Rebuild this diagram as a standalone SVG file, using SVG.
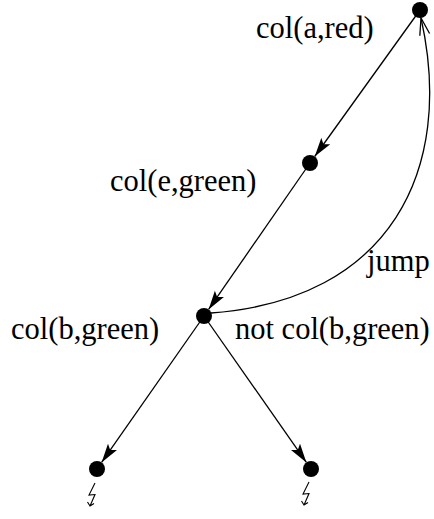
<svg xmlns="http://www.w3.org/2000/svg" width="434" height="519" viewBox="0 0 434 519">
<defs>
<style>
.lbl{font-family:"Liberation Serif","Times New Roman",serif;font-size:30.5px;fill:#000}
.edge{stroke:#000;stroke-width:1.3;fill:none}
.bolt{stroke:#000;stroke-width:1.1;fill:none;stroke-linejoin:miter}
.node{fill:#000}
</style>
<marker id="dart" markerUnits="userSpaceOnUse" markerWidth="20" markerHeight="12" viewBox="0 0 20 12" refX="19" refY="6" orient="auto">
<path d="M0,0.5 L19,6 L0,11.5 L4,6 Z" fill="#000"/>
</marker>
<marker id="open" markerUnits="userSpaceOnUse" markerWidth="20" markerHeight="14" viewBox="0 0 20 14" refX="18" refY="7" orient="auto">
<path d="M1,2 L18,7 L1,12" fill="none" stroke="#000" stroke-width="1.3"/>
</marker>
</defs>
<rect width="434" height="519" fill="#fff"/>
<g id="connectors">
<line class="edge" x1="420" y1="10" x2="314.7" y2="156.5" marker-end="url(#dart)"/>
<line class="edge" x1="310" y1="163" x2="208.6" y2="309.4" marker-end="url(#dart)"/>
<line class="edge" x1="204" y1="316" x2="101.6" y2="462.4" marker-end="url(#dart)"/>
<line class="edge" x1="204" y1="316" x2="306.4" y2="462.4" marker-end="url(#dart)"/>
<path class="edge" d="M211,313 C390,300 455,170 421,18" marker-end="url(#open)"/>
</g>
<g id="n1"><circle class="node" cx="420" cy="10" r="8"/><text class="lbl" x="256" y="38">col(a,red)</text></g>
<g id="n2"><circle class="node" cx="310" cy="163" r="8"/><text class="lbl" x="110" y="191">col(e,green)</text></g>
<g id="n3"><circle class="node" cx="204" cy="316" r="8"/><text class="lbl" x="11" y="339">col(b,green)</text><text class="lbl" x="235" y="339">not col(b,green)</text></g>
<g id="jumplabel"><text class="lbl" x="367" y="271">jump</text></g>
<g id="n4"><circle class="node" cx="97" cy="469" r="8"/><path class="bolt" d="M95,483 L89,495 L95,494.5 L90,506 M87.5,502 L90,506 L94,503.5"/></g>
<g id="n5"><circle class="node" cx="311" cy="469" r="8"/><path class="bolt" d="M309,482 L303,494 L309,493.5 L304,505 M301.5,501 L304,505 L308,502.5"/></g>
</svg>
